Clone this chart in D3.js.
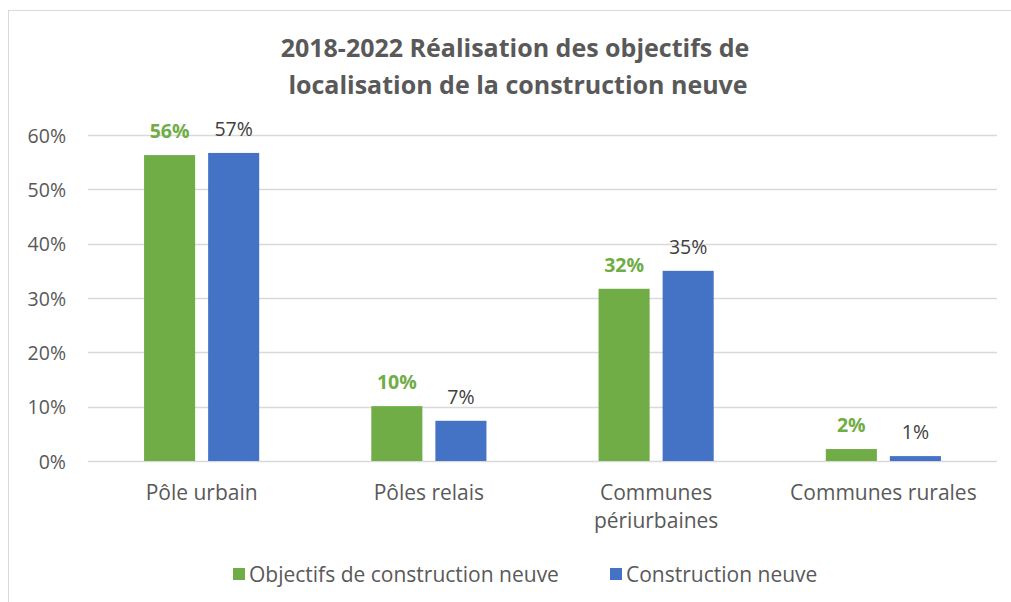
<!DOCTYPE html>
<html><head><meta charset="utf-8">
<script src="https://cdn.jsdelivr.net/npm/d3@7"></script>
<style>
body{margin:0;background:#fff;}
text{font-family:"Open Sans","Liberation Sans",sans-serif;}
</style></head>
<body>
<svg id="c" width="1011" height="602"></svg>
<script>
const categories = [["Pôle urbain"],["Pôles relais"],["Communes","périurbaines"],["Communes rurales"]];
const seriesNames = ["Objectifs de construction neuve","Construction neuve"];
const objectifs = [0.563, 0.101, 0.317, 0.022];
const construction = [0.567, 0.074, 0.350, 0.009];
const yTicks = [0,0.1,0.2,0.3,0.4,0.5,0.6];
const colors = ["#70AD47","#4472C4"];

const svg = d3.select("#c");
svg.append("rect").attr("x",8.5).attr("y",10.5).attr("width",1020).attr("height",620)
  .attr("fill","#fff").attr("stroke","#d9d9d9").attr("stroke-width",1);

const m = {l:88, r:997, t:135, b:461};
const x = d3.scaleBand().domain(d3.range(categories.length)).range([m.l,m.r]);
const y = d3.scaleLinear().domain([0,0.6]).range([m.b,m.t]);
const inner = d3.scaleBand().domain([0,1]).range([0, x.bandwidth()]).paddingInner(0.203).paddingOuter(0.875);

// title
const title = svg.append("text").attr("text-anchor","middle")
  .attr("font-size",25).attr("font-weight","bold").attr("fill","#595959");
title.append("tspan").attr("x",515).attr("y",57).text("2018-2022 Réalisation des objectifs de");
title.append("tspan").attr("x",518).attr("y",94).text("localisation de la construction neuve");

// grid
svg.append("g").selectAll("line").data(yTicks).join("line")
  .attr("x1",m.l).attr("x2",m.r).attr("y1",d=>Math.round(y(d))+0.5).attr("y2",d=>Math.round(y(d))+0.5)
  .attr("stroke","#d9d9d9").attr("stroke-width",1.5);

const fmt = d3.format(".0%");
const yAxis = d3.axisLeft(y).tickValues(yTicks).tickFormat(fmt).tickSize(0).tickPadding(0);
const ya = svg.append("g").attr("transform",`translate(66,0)`).call(yAxis);
ya.select(".domain").remove();
ya.selectAll("text").attr("font-size",19.5).attr("fill","#595959").attr("font-family","Open Sans").attr("dy","0.36em");

const series = [objectifs, construction];
series.forEach((vals,si)=>{
  const g = svg.append("g");
  g.selectAll("rect").data(vals).join("rect")
    .attr("x",(d,i)=>x(i)+inner(si)).attr("width",inner.bandwidth())
    .attr("y",d=>y(d)).attr("height",d=>y(0)-y(d)).attr("fill",colors[si]);
  g.selectAll("text").data(vals).join("text")
    .attr("x",(d,i)=>x(i)+inner(si)+inner.bandwidth()/2).attr("y",d=>y(d)-17)
    .attr("text-anchor","middle").attr("font-size",19.5)
    .attr("font-weight",si===0?"bold":"normal")
    .attr("fill",si===0?"#70AD47":"#404040").text(d=>fmt(d));
});

// x labels
const xl = svg.append("g").selectAll("text").data(categories).join("text")
  .attr("text-anchor","middle").attr("font-size",21).attr("fill","#595959");
xl.each(function(lines,i){
  const t=d3.select(this);
  lines.forEach((l,j)=>t.append("tspan").attr("x",x(i)+x.bandwidth()/2).attr("y",500+j*28).text(l));
});

// legend
const leg = svg.append("g");
const lx = [233, 610];
seriesNames.forEach((n,i)=>{
  leg.append("rect").attr("x",lx[i]).attr("y",568).attr("width",12).attr("height",12).attr("fill",colors[i]);
  leg.append("text").attr("x",lx[i]+16).attr("y",582).attr("font-size",21).attr("fill","#595959").text(n);
});
</script>
</body></html>
